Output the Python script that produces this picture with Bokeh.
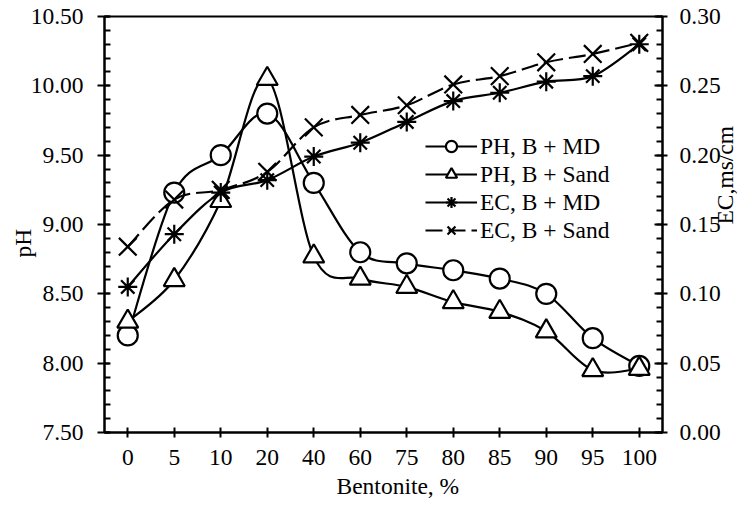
import math

from bokeh.plotting import figure
from bokeh.models import (FactorRange, Range1d, LinearAxis, FixedTicker, Title,
                          NumeralTickFormatter, Legend, LegendItem, ColumnDataSource)
from bokeh.embed import file_html
from bokeh.resources import INLINE

# Bentonite content (%) on the x axis
bentonite = ["0", "5", "10", "20", "40", "60", "75", "80", "85", "90", "95", "100"]

# pH (left axis)
ph_md = [8.20, 9.23, 9.50, 9.80, 9.30, 8.80, 8.72, 8.67, 8.61, 8.50, 8.18, 7.98]
ph_sand = [8.30, 8.60, 9.17, 10.05, 8.77, 8.61, 8.55, 8.44, 8.37, 8.23, 7.95, 7.96]

# Electrical conductivity, ms/cm (right axis)
ec_md = [0.105, 0.143, 0.173, 0.182, 0.199, 0.209, 0.224, 0.239, 0.245, 0.253, 0.257, 0.280]
ec_sand = [0.134, 0.168, 0.175, 0.188, 0.220, 0.229, 0.236, 0.251, 0.257, 0.267, 0.273, 0.281]

ph_ticks = [7.50, 8.00, 8.50, 9.00, 9.50, 10.00, 10.50]
ec_ticks = [0.00, 0.05, 0.10, 0.15, 0.20, 0.25, 0.30]

FONT = "Liberation Serif"
FS = "23.5px"


def smooth_source(xs, ys):
    """Cubic Bezier pieces (Catmull-Rom style) through consecutive points."""
    n = len(xs)
    d = dict(x0=[], y0=[], x1=[], y1=[], cx0=[], cy0=[], cx1=[], cy1=[])
    for i in range(n - 1):
        a = max(i - 1, 0)
        b = min(i + 2, n - 1)
        d["x0"].append(xs[i]); d["y0"].append(ys[i])
        d["x1"].append(xs[i + 1]); d["y1"].append(ys[i + 1])
        d["cx0"].append(xs[i] + (xs[i + 1] - xs[a]) / 6)
        d["cy0"].append(ys[i] + (ys[i + 1] - ys[a]) / 6)
        d["cx1"].append(xs[i + 1] - (xs[b] - xs[i]) / 6)
        d["cy1"].append(ys[i + 1] - (ys[b] - ys[i]) / 6)
    return ColumnDataSource(d)


p = figure(width=754, height=508, output_backend="svg", toolbar_location=None,
           x_range=FactorRange(factors=bentonite),
           y_range=Range1d(ph_ticks[0], ph_ticks[-1]),
           min_border_left=104, min_border_right=92,
           min_border_top=16, min_border_bottom=76)
p.extra_y_ranges = {"ec": Range1d(ec_ticks[0], ec_ticks[-1])}

p.background_fill_color = "white"
p.border_fill_color = "white"
p.outline_line_color = "black"
p.outline_line_width = 2
p.xgrid.visible = False
p.ygrid.visible = False

# synthetic positions of the categories on the factor range
pos = [bentonite.index(b) + 0.5 for b in bentonite]

series = [
    ("PH, B + MD", ph_md, "default", "circle", 20, "white", None),
    ("PH, B + Sand", ph_sand, "default", "triangle", 21, "white", None),
    ("EC, B + MD", ec_md, "ec", "asterisk", 19, None, None),
    ("EC, B + Sand", ec_sand, "ec", "x", 25, None, "17 6"),
]

items = []
for label, vals, rng, marker, size, fill, dash in series:
    line_r = p.bezier(x0="x0", y0="y0", x1="x1", y1="y1",
                      cx0="cx0", cy0="cy0", cx1="cx1", cy1="cy1",
                      source=smooth_source(pos, vals), y_range_name=rng,
                      line_color="black", line_width=2.2,
                      line_dash=dash if dash else "solid")
    src = ColumnDataSource(dict(x=bentonite, y=vals))
    mk_r = p.scatter(x="x", y="y", source=src, y_range_name=rng, marker=marker,
                     size=size, line_color="black", line_width=2.2,
                     fill_color=fill if fill else None)
    items.append(LegendItem(label=label, renderers=[line_r, mk_r]))

# axes
xa = p.xaxis[0]
ya = p.yaxis[0]
yr = LinearAxis(y_range_name="ec")
p.add_layout(yr, "right")

ya.ticker = FixedTicker(ticks=ph_ticks, minor_ticks=[round(7.5 + 0.1 * k, 2) for k in range(31)])
ya.formatter = NumeralTickFormatter(format="0.00")
yr.ticker = FixedTicker(ticks=ec_ticks, minor_ticks=[round(0.01 * k, 2) for k in range(31)])
yr.formatter = NumeralTickFormatter(format="0.00")

for ax in (xa, ya, yr):
    ax.axis_line_color = "black"
    ax.axis_line_width = 2
    ax.major_tick_line_color = "black"
    ax.major_tick_line_width = 2
    ax.minor_tick_line_color = "black"
    ax.minor_tick_line_width = 2
    ax.major_tick_in = 5
    ax.major_tick_out = 7
    ax.minor_tick_in = 6
    ax.minor_tick_out = 0
    ax.major_label_text_font = FONT
    ax.major_label_text_font_size = FS
    ax.major_label_text_color = "black"
    ax.axis_label_text_font = FONT
    ax.axis_label_text_font_size = FS
    ax.axis_label_text_font_style = "normal"
    ax.axis_label_text_color = "black"

xa.major_tick_out = 5
xa.major_label_standoff = 12
ya.major_label_standoff = 14
yr.major_tick_out = 5
yr.major_tick_in = 8
yr.major_label_standoff = 12

# right axis title reads bottom-to-top
yr.axis_label = "EC,ms/cm"
yr.axis_label_orientation = math.pi / 2
yr.axis_label_text_baseline = "bottom"
yr.axis_label_standoff = 1

# x and left titles as side titles, aligned from the frame's start edge
title_style = dict(text_font=FONT, text_font_size=FS, text_color="black",
                   text_font_style="normal", align="left")
p.add_layout(Title(text="Bentonite, %", offset=232, standoff=6, **title_style), "below")
p.add_layout(Title(text="pH", offset=175, standoff=-17, **title_style), "left")

legend = Legend(items=items, location=(321, 188), border_line_color=None,
                background_fill_alpha=0, padding=0, margin=0, spacing=0,
                glyph_width=52, glyph_height=28, label_height=28,
                label_standoff=3, label_text_font=FONT,
                label_text_font_size=FS, label_text_color="black")
p.add_layout(legend, "center")

open("out.html", "w").write(file_html(p, INLINE))
